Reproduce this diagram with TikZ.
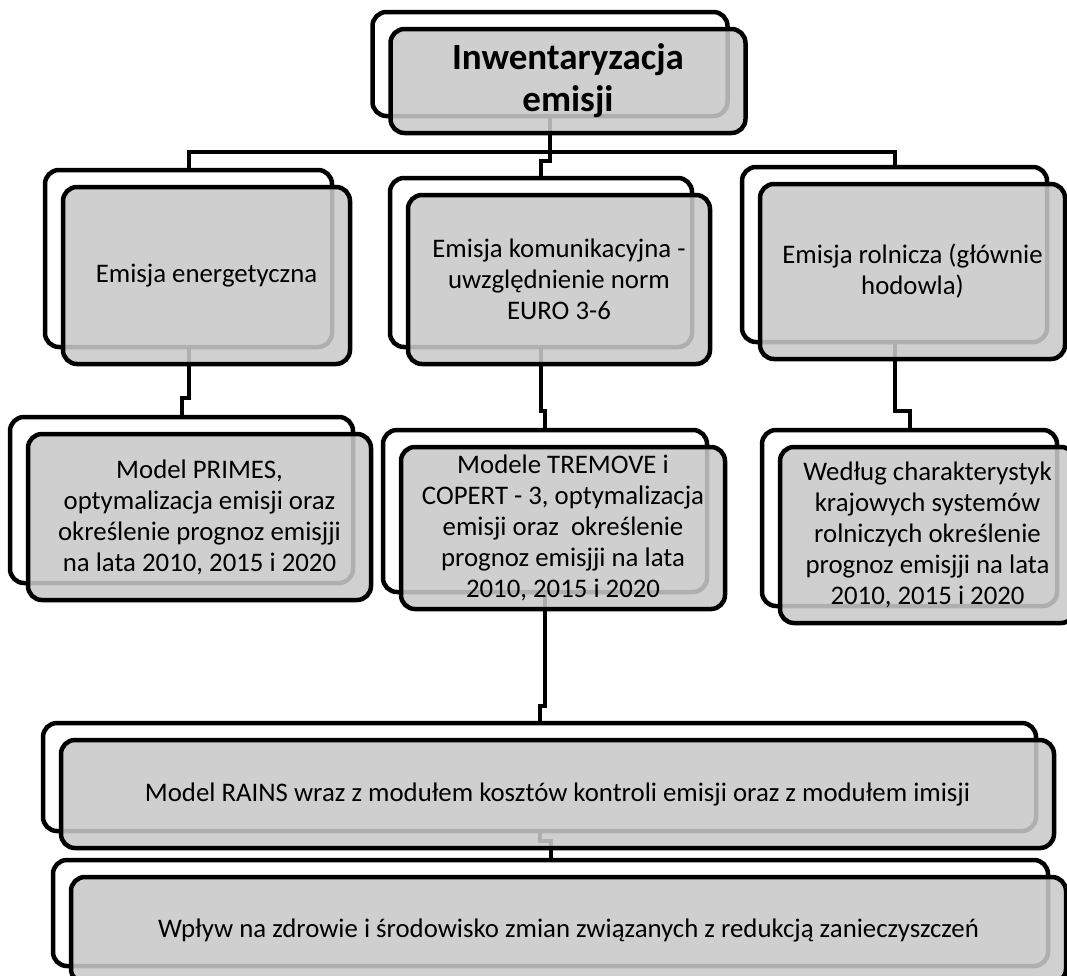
\documentclass[tikz,border=0pt]{standalone}
\usepackage{fontspec}
\setmainfont{Carlito}
\usepackage{tikz}
\usetikzlibrary{backgrounds}

\definecolor{boxgray}{RGB}{201,201,201}

\tikzset{
  backbox/.style={draw=black, line width=4.5pt, rounded corners=14pt, fill=white, inner sep=0pt},
  frontbox/.style={draw=black, line width=4.5pt, rounded corners=14pt, fill=boxgray,
    fill opacity=0.875, draw opacity=1, text opacity=1, inner sep=0pt, align=center,
    font=\fontsize{26.8}{31}\selectfont},
  link/.style={line width=4pt, line join=miter},
  titletext/.style={font=\fontsize{37}{42}\selectfont\bfseries}
}

% card: back box at (x,y) with size w x h, front box shifted
\newcommand{\card}[7][]{%
  \node[backbox, minimum width=#5pt, minimum height=#6pt] (#2b) at (#3,#4) {};
  \node[frontbox, #1, minimum width=#5pt, minimum height=#6pt, xshift=18pt, yshift=-17pt] (#2) at (#3,#4) {#7};
}

\begin{document}
\begin{tikzpicture}[x=1pt,y=-1pt]
  \useasboundingbox (0,0) rectangle (1067,975);
  \clip (0,0) rectangle (1067,975);

  \card[titletext]{top}{550}{64}{355}{104}{Inwentaryzacja\\emisji}
  \card{en}{188.5}{258.5}{287}{177}{Emisja energetyczna}
  \card{kom}{541}{262.5}{302}{169}{Emisja komunikacyjna -\\uwzględnienie norm\\EURO 3-6}
  \card{rol}{894.5}{254.5}{305}{175}{Emisja rolnicza (głównie\\hodowla)}
  \card{prim}{181.5}{500}{343}{166}{Model PRIMES,\\optymalizacja emisji oraz\\określenie prognoz emisjji\\na lata 2010, 2015 i 2020}
  \card{trem}{545}{511}{324}{162}{Modele TREMOVE i\\COPERT - 3, optymalizacja\\emisji oraz\ \ określenie\\prognoz emisjji na lata\\2010, 2015 i 2020}
  \card{kraj}{909.5}{518}{295}{176}{Według charakterystyk\\krajowych systemów\\rolniczych określenie\\prognoz emisjji na lata\\2010, 2015 i 2020}
  \card{rains}{539.5}{777}{993}{108}{Model RAINS wraz z modułem kosztów kontroli emisji oraz z modułem imisji}
  \card{wpl}{550.5}{913}{995}{106}{Wpływ na zdrowie i środowisko zmian związanych z redukcją zanieczyszczeń}

  \begin{pgfonlayer}{background}
    \coordinate (bus) at (550,152);
    \draw[link] (topb.center) -- (bus);
    \draw[link] (enb.north) |- (bus) -| (rolb.north);
    \draw[link] (bus) |- ([yshift=15pt]komb.north) -- (komb.north);
    \draw[link] (enb.center) |- ([yshift=17pt]primb.north) -- (primb.north);
    \draw[link] (komb.center) |- ([yshift=17pt]tremb.north) -- (tremb.north);
    \draw[link] (rolb.center) |- ([yshift=17pt]krajb.north) -- (krajb.north);
    \draw[link] (tremb.center) |- ([yshift=15pt]rainsb.north) -- (rainsb.north);
    \draw[link] (rainsb.center) |- ([yshift=17pt]wplb.north) -- (wplb.north);
  \end{pgfonlayer}
\end{tikzpicture}
\end{document}
